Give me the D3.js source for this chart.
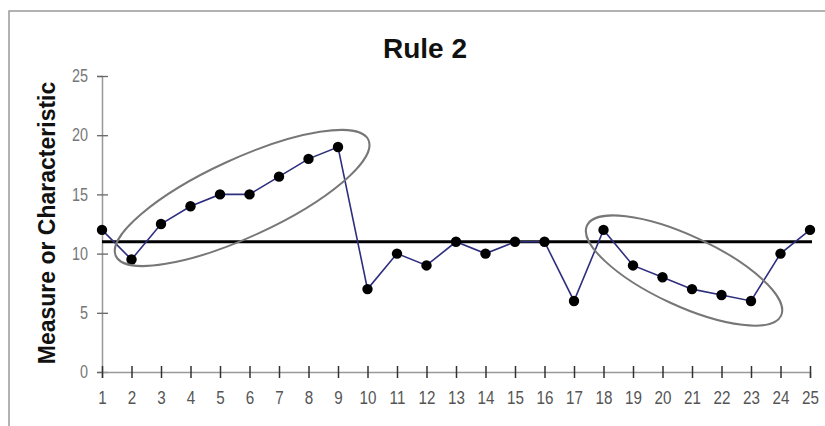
<!DOCTYPE html>
<html><head><meta charset="utf-8">
<script src="https://cdn.jsdelivr.net/npm/d3@7"></script>
<style>
html,body{margin:0;padding:0;background:#fff;}
svg{display:block;}
</style></head>
<body>
<script>
const samples = [1,2,3,4,5,6,7,8,9,10,11,12,13,14,15,16,17,18,19,20,21,22,23,24,25];
const values  = [12,9.5,12.5,14,15,15,16.5,18,19,7,10,9,11,10,11,11,6,12,9,8,7,6.5,6,10,12];
const centerLine = 11;
const yTicks = [0,5,10,15,20,25];
const xTicks = samples;
const title = "Rule 2";
const yLabel = "Measure or Characteristic";
// circled runs (centre in data units)
const ellipses = [
  {cx:5.75, cy:14.7, rx:139, ry:39, angle:-24.7},
  {cx:20.73, cy:8.57, rx:107, ry:35, angle:24.9}
];

const W = 825, H = 426;
const svg = d3.select("body").append("svg").attr("width",W).attr("height",H);

// outer frame
svg.append("rect").attr("x",9).attr("y",11).attr("width",W).attr("height",H)
  .attr("fill","none").attr("stroke","#999").attr("stroke-width",1.5);

const x = d3.scaleLinear().domain([1,25]).range([102,810]);
const y = d3.scaleLinear().domain([0,25]).range([372,76]);

// title
svg.append("text").attr("x",425).attr("y",58).attr("text-anchor","middle")
  .attr("font-family","Liberation Sans, Arial, sans-serif").attr("font-weight","bold")
  .attr("font-size",28).attr("fill","#111").text(title);

// y label
svg.append("text").attr("transform","translate(55,223) rotate(-90)")
  .attr("text-anchor","middle")
  .attr("font-family","Liberation Sans, Arial, sans-serif").attr("font-weight","bold")
  .attr("font-size",23).attr("fill","#111").text(yLabel);

// y axis
const gy = svg.append("g").attr("transform",`translate(${x(1)},0)`)
  .call(d3.axisLeft(y).tickValues(yTicks).tickSize(5).tickPadding(0));
gy.select(".domain").attr("stroke","#999").attr("stroke-width",1.5);
gy.selectAll(".tick line").attr("x1",-5).attr("x2",6).attr("stroke","#666").attr("stroke-width",1.3);
gy.selectAll(".tick text").attr("x",0)
  .attr("transform","translate(-14,0) scale(0.8,1)")
  .attr("font-family","Liberation Sans, Arial, sans-serif").attr("font-size",18).attr("fill","#777");

// x axis
const gx = svg.append("g").attr("transform",`translate(0,${y(0)})`)
  .call(d3.axisBottom(x).tickValues(xTicks).tickSize(6).tickFormat(d3.format("d")));
gx.select(".domain").attr("stroke","#999").attr("stroke-width",1.5);
gx.selectAll(".tick line").attr("y1",-6).attr("y2",6).attr("stroke","#333").attr("stroke-width",1.5);
gx.selectAll(".tick text").attr("y",0).attr("dy",0)
  .attr("transform","translate(0,32) scale(0.8,1)")
  .attr("font-family","Liberation Sans, Arial, sans-serif").attr("font-size",19).attr("fill","#555");

// centre line
svg.append("line").attr("x1",x(1)).attr("x2",x(25)+2)
  .attr("y1",y(centerLine)).attr("y2",y(centerLine))
  .attr("stroke","#000").attr("stroke-width",3);

// data line
const line = d3.line().x((d,i)=>x(samples[i])).y(d=>y(d));
svg.append("path").datum(values).attr("d",line)
  .attr("fill","none").attr("stroke","#2e2e7e").attr("stroke-width",1.6);

svg.append("g").selectAll("circle").data(values).join("circle")
  .attr("cx",(d,i)=>x(samples[i])).attr("cy",d=>y(d)).attr("r",5.2).attr("fill","#000");

// ellipses
svg.append("g").selectAll("ellipse").data(ellipses).join("ellipse")
  .attr("transform",d=>`translate(${x(d.cx)},${y(d.cy)}) rotate(${d.angle})`)
  .attr("rx",d=>d.rx).attr("ry",d=>d.ry)
  .attr("fill","none").attr("stroke","#777").attr("stroke-width",2);
</script>
</body></html>
